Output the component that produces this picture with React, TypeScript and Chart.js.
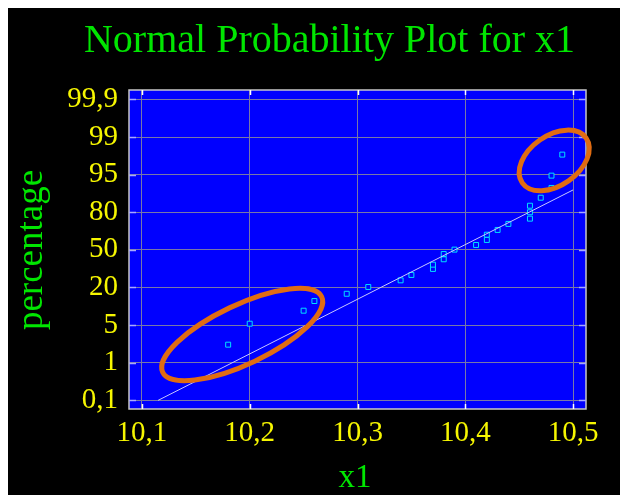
import { useEffect, useRef } from "react";
import { Chart, registerables } from "chart.js";

Chart.register(...registerables);

// Probability axis: labelled levels, evenly spaced on the plot
const probabilityLevels = [0.1, 1, 5, 20, 50, 80, 95, 99, 99.9];
const probabilityLabels = ["0,1", "1", "5", "20", "50", "80", "95", "99", "99,9"];

// x1 axis ticks
const x1Ticks = [10.1, 10.2, 10.3, 10.4, 10.5];

// Observations of x1 and their cumulative percentage
const x1Values = [
  10.18, 10.2, 10.25, 10.26, 10.29, 10.31, 10.34, 10.35, 10.37, 10.37, 10.38, 10.38, 10.39,
  10.41, 10.42, 10.42, 10.43, 10.44, 10.46, 10.46, 10.46, 10.47, 10.48, 10.48, 10.49,
];
const x1Percent = [
  2.92, 5.56, 10.75, 14.6, 17.5, 20.4, 25.7, 30.0, 34.8, 38.2, 42.5, 46.7, 50.2,
  53.9, 57.9, 62.1, 65.9, 70.7, 74.9, 80.0, 82.6, 85.8, 89.7, 94.6, 97.13,
];

// Reference line end points
const fitX = [10.115, 10.5];
const fitPercent = [0.1, 88.9];

// Highlighted groups of points (centre in data units, radii in px)
const highlightX = [10.193, 10.4825];
const highlightPercent = [4.0, 96.51];
const highlightShape = [
  { rx: 88, ry: 29.5, angle: -25.4 },
  { rx: 39, ry: 25, angle: -35 },
];

const GREEN = "#00e600";
const YELLOW = "#f6f600";
const SERIF = '"Liberation Serif", "DejaVu Serif", serif';

// Map a percentage onto the evenly spaced probability axis
function toIndex(p: number): number {
  const lv = probabilityLevels;
  if (p <= lv[0]) return 0;
  for (let i = 0; i < lv.length - 1; i++) {
    if (p <= lv[i + 1]) return i + (p - lv[i]) / (lv[i + 1] - lv[i]);
  }
  return lv.length - 1;
}

const frame = {
  id: "frame",
  beforeDraw(chart: any) {
    const { ctx, chartArea: a, width, height } = chart;
    ctx.save();
    ctx.fillStyle = "#000000";
    ctx.fillRect(0, 0, width, height);
    ctx.fillStyle = "#0000ff";
    ctx.fillRect(a.left, a.top, a.right - a.left, a.bottom - a.top);
    ctx.restore();
  },
  beforeDatasetsDraw(chart: any) {
    const { ctx, chartArea: a, scales } = chart;
    ctx.save();
    ctx.lineWidth = 1.5;
    ctx.strokeStyle = "#c8c8c8";
    ctx.strokeRect(a.left, a.top, a.right - a.left, a.bottom - a.top);
    // short tick marks inside the frame
    ctx.lineWidth = 1.5;
    ctx.strokeStyle = "#a8a8ff";
    probabilityLevels.forEach((_, i) => {
      const y = Math.round(scales.y.getPixelForValue(i)) + 0.5;
      ctx.beginPath();
      ctx.moveTo(a.left, y);
      ctx.lineTo(a.left + 7, y);
      ctx.moveTo(a.right - 7, y);
      ctx.lineTo(a.right, y);
      ctx.stroke();
    });
    ctx.strokeStyle = "#ffffff";
    x1Ticks.forEach((v) => {
      const x = Math.round(scales.x.getPixelForValue(v)) + 0.5;
      ctx.beginPath();
      ctx.moveTo(x, a.top);
      ctx.lineTo(x, a.top + 5);
      ctx.moveTo(x, a.bottom - 5);
      ctx.lineTo(x, a.bottom);
      ctx.stroke();
    });
    ctx.restore();
  },
  afterDatasetsDraw(chart: any) {
    const { ctx, scales } = chart;
    ctx.save();
    ctx.strokeStyle = "#e06c12";
    ctx.lineWidth = 5;
    highlightShape.forEach((s, i) => {
      const cx = scales.x.getPixelForValue(highlightX[i]);
      const cy = scales.y.getPixelForValue(toIndex(highlightPercent[i]));
      ctx.beginPath();
      ctx.ellipse(cx, cy, s.rx, s.ry, (s.angle * Math.PI) / 180, 0, Math.PI * 2);
      ctx.stroke();
    });
    ctx.restore();
  },
  afterDraw(chart: any) {
    const { ctx } = chart;
    ctx.save();
    ctx.fillStyle = GREEN;
    ctx.textAlign = "center";
    ctx.textBaseline = "alphabetic";
    ctx.font = `40px ${SERIF}`;
    ctx.fillText("Normal Probability Plot for x1", 321.5, 44);
    ctx.font = `33px ${SERIF}`;
    ctx.fillText("x1", 347, 479);
    ctx.translate(34, 242);
    ctx.rotate(-Math.PI / 2);
    ctx.font = `37px ${SERIF}`;
    ctx.fillText("percentage", 0, 0);
    ctx.restore();
  },
};

export default function App() {
  const ref = useRef<HTMLCanvasElement>(null);

  useEffect(() => {
    document.documentElement.style.overflow = "hidden";
    const canvas = ref.current;
    if (!canvas) return;
    const points = x1Values.map((x, i) => ({ x, y: toIndex(x1Percent[i]) }));
    const line = fitX.map((x, i) => ({ x, y: toIndex(fitPercent[i]) }));
    const chart = new Chart(canvas, {
      type: "scatter",
      data: {
        datasets: [
          {
            data: line,
            showLine: true,
            borderColor: "#c8c8ff",
            borderWidth: 1,
            pointRadius: 0,
          },
          {
            data: points,
            pointStyle: "rect",
            pointRadius: 3.5,
            borderWidth: 1,
            borderColor: "#00e0ff",
            backgroundColor: "#0000ff",
          },
        ],
      },
      options: {
        responsive: false,
        animation: false,
        devicePixelRatio: 1,
        layout: { padding: { top: 82, right: 42, bottom: 0, left: 0 } },
        plugins: { legend: { display: false }, tooltip: { enabled: false }, title: { display: false } },
        scales: {
          x: {
            type: "linear",
            min: 10.088,
            max: 10.512,
            afterBuildTicks: (s: any) => {
              s.ticks = x1Ticks.map((v) => ({ value: v }));
            },
            afterFit: (s: any) => {
              s.height = 86;
            },
            grid: { color: "#7878a8", lineWidth: 1, drawTicks: false },
            border: { display: false },
            ticks: {
              color: YELLOW,
              font: { family: SERIF, size: 29 },
              padding: 7,
              maxRotation: 0,
              autoSkip: false,
              callback: (v: any) => Number(v).toFixed(1).replace(".", ","),
            },
          },
          y: {
            type: "linear",
            min: -0.23,
            max: 8.25,
            afterBuildTicks: (s: any) => {
              s.ticks = probabilityLabels.map((_, i) => ({ value: i }));
            },
            afterFit: (s: any) => {
              s.width = 121;
            },
            grid: { color: "#7878a8", lineWidth: 1, drawTicks: false },
            border: { display: false },
            ticks: {
              color: YELLOW,
              font: { family: SERIF, size: 29 },
              padding: 11,
              autoSkip: false,
              callback: (v: any) => probabilityLabels[Math.round(Number(v))],
            },
          },
        },
      },
      plugins: [frame],
    });
    return () => chart.destroy();
  }, []);

  return <canvas ref={ref} width={620} height={487} style={{ display: "block", width: 620, height: 487 }} />;
}
